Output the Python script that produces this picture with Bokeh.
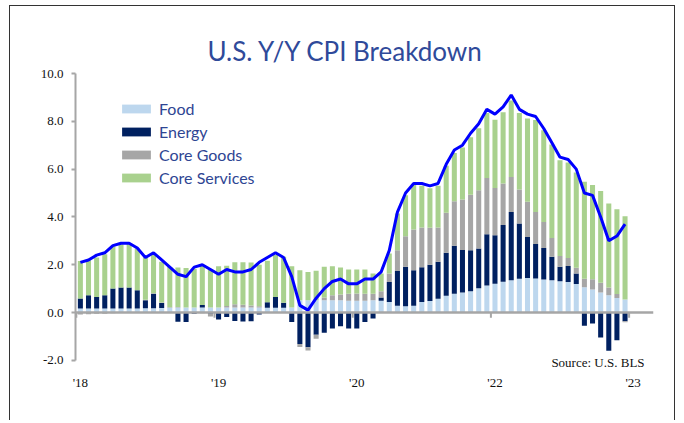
from bokeh.plotting import figure
from bokeh.models import (Span, Label, Legend, LegendItem, FixedTicker, NumeralTickFormatter,
                          ColumnDataSource, Title)
from bokeh.embed import file_html
from bokeh.resources import INLINE

# ---------------- data (contributions to Y/Y CPI, pct pts) ----------------
months = [f"{y}-{m:02d}" for y in range(2018, 2024) for m in range(1, 13)][:68]

food = [0.17, 0.17, 0.17, 0.17, 0.17, 0.17, 0.17, 0.17, 0.18, 0.18, 0.19, 0.20,
        0.21, 0.21, 0.21, 0.21, 0.21, 0.21, 0.21, 0.21, 0.21, 0.21, 0.21, 0.20,
        0.20, 0.20, 0.21, 0.51, 0.51, 0.51, 0.51, 0.51, 0.51, 0.49, 0.49, 0.49,
        0.51, 0.49, 0.44, 0.28, 0.26, 0.28, 0.44, 0.48, 0.58, 0.70, 0.79, 0.84,
        0.89, 1.02, 1.13, 1.20, 1.29, 1.35, 1.41, 1.44, 1.42, 1.38, 1.35, 1.31,
        1.28, 1.19, 1.06, 0.96, 0.84, 0.72, 0.61, 0.54]
energy = [0.42, 0.55, 0.48, 0.55, 0.83, 0.88, 0.88, 0.76, 0.33, 0.61, 0.21, -0.02,
          -0.39, -0.40, -0.05, 0.10, -0.05, -0.29, -0.19, -0.35, -0.38, -0.36, -0.08, 0.23,
          0.45, 0.21, -0.40, -1.32, -1.45, -0.93, -0.85, -0.67, -0.57, -0.67, -0.67, -0.40,
          -0.25, 0.14, 0.84, 1.46, 1.65, 1.49, 1.45, 1.52, 1.54, 1.80, 2.00, 1.78,
          1.72, 1.66, 2.14, 2.03, 2.37, 2.86, 2.31, 1.72, 1.45, 1.32, 0.98, 0.60,
          0.67, 0.44, -0.55, -0.46, -1.05, -1.60, -1.16, -0.36]
core_goods = [-0.08, -0.07, -0.05, -0.05, -0.03, -0.02, -0.02, 0.00, 0.02, 0.02, 0.02, 0.02,
              0.02, 0.00, 0.00, -0.03, -0.12, 0.00, 0.06, 0.14, 0.12, 0.08, 0.05, 0.00,
              0.00, 0.00, 0.00, -0.12, -0.14, -0.17, 0.12, 0.21, 0.24, 0.30, 0.31, 0.30,
              0.28, 0.26, 0.35, 0.87, 1.28, 1.70, 1.67, 1.55, 1.44, 1.67, 1.87, 2.11,
              2.32, 2.44, 2.36, 1.98, 1.74, 1.46, 1.43, 1.47, 1.34, 1.09, 0.79, 0.46,
              0.33, 0.24, 0.35, 0.43, 0.41, 0.33, 0.16, -0.05]
core_services = [1.57, 1.47, 1.65, 1.72, 1.77, 1.81, 1.84, 1.75, 1.77, 1.66, 1.70, 1.68,
                 1.65, 1.65, 1.62, 1.67, 1.59, 1.73, 1.69, 1.75, 1.77, 1.80, 1.74, 1.74,
                 1.77, 1.92, 1.73, 1.26, 1.19, 1.24, 1.28, 1.22, 1.13, 1.01, 1.00, 1.01,
                 0.84, 0.74, 0.84, 1.53, 1.72, 1.86, 1.74, 1.65, 1.74, 1.97, 2.01, 2.17,
                 2.40, 2.59, 2.72, 2.86, 2.98, 3.20, 3.20, 3.49, 3.84, 3.84, 3.91, 4.00,
                 4.00, 3.99, 4.06, 3.94, 3.83, 3.51, 3.55, 3.49]
headline_cpi = [2.1, 2.2, 2.4, 2.5, 2.8, 2.9, 2.9, 2.7, 2.3, 2.5, 2.2, 1.9,
                1.6, 1.5, 1.9, 2.0, 1.8, 1.6, 1.8, 1.7, 1.7, 1.8, 2.1, 2.3,
                2.5, 2.3, 1.5, 0.3, 0.1, 0.6, 1.0, 1.3, 1.4, 1.2, 1.2, 1.4,
                1.4, 1.7, 2.6, 4.2, 5.0, 5.4, 5.4, 5.3, 5.4, 6.2, 6.8, 7.0,
                7.5, 7.9, 8.5, 8.3, 8.6, 9.1, 8.5, 8.3, 8.2, 7.7, 7.1, 6.5,
                6.4, 6.0, 5.0, 4.9, 4.0, 3.0, 3.2, 3.7]

tick_index = [0, 17, 34, 51, 68]
tick_labels = ["'18", "'19", "'20", "'22", "'23"]
y_ticks = [-2.0, 0.0, 2.0, 4.0, 6.0, 8.0, 10.0]

series = [("Food", food, "#BDD7EE"),
          ("Energy", energy, "#002060"),
          ("Core Goods", core_goods, "#A6A6A6"),
          ("Core Services", core_services, "#A9D18E")]

# ---------------- figure ----------------
p = figure(width=666, height=415, x_range=(-0.6, 70.5), y_range=(-2.3, 10),
           output_backend="svg", toolbar_location=None,
           min_border_left=65, min_border_right=23, min_border_top=67, min_border_bottom=54)
p.styles = {"border-top": "1px solid #333333", "border-left": "1px solid #333333",
            "border-right": "1px solid #333333", "margin-left": "9px", "margin-top": "5px"}
p.outline_line_color = None
p.xgrid.visible = False
p.ygrid.visible = False
p.background_fill_color = "white"
p.border_fill_color = "white"

x = list(range(len(months)))
pos = [0.0] * len(x)
neg = [0.0] * len(x)
renderers = []
for name, vals, color in series:
    bottoms, tops = [], []
    for i, v in enumerate(vals):
        if v >= 0:
            bottoms.append(pos[i]); tops.append(pos[i] + v); pos[i] += v
        else:
            tops.append(neg[i]); bottoms.append(neg[i] + v); neg[i] += v
    src = ColumnDataSource(dict(x=x, bottom=bottoms, top=tops))
    r = p.vbar(x="x", bottom="bottom", top="top", width=0.62, source=src,
               fill_color=color, line_color=None)
    renderers.append((name, r))

zero = Span(location=0, dimension="width", line_color="#A6A6A6", line_width=2.5)
p.add_layout(zero)

# small tick marks on the zero line (category boundaries)
p.segment(x0=[t - 0.5 for t in tick_index], x1=[t - 0.5 for t in tick_index],
          y0=[0] * len(tick_index), y1=[-0.22] * len(tick_index),
          line_color="#A6A6A6", line_width=2)

p.line(x, headline_cpi, line_color="#0000FF", line_width=3)

# axes
xa = p.xaxis[0]
xa.ticker = FixedTicker(ticks=tick_index)
xa.major_label_overrides = {t: l for t, l in zip(tick_index, tick_labels)}
xa.axis_line_color = None
xa.major_tick_line_color = None
xa.minor_tick_line_color = None
xa.major_label_text_font = "Liberation Serif"
xa.major_label_text_font_size = "13px"
xa.major_label_text_color = "#111111"
xa.major_label_standoff = 1

ya = p.yaxis[0]
ya.ticker = FixedTicker(ticks=y_ticks)
ya.bounds = (-2, 10)
ya.formatter = NumeralTickFormatter(format="0.0")
ya.axis_line_color = "#A6A6A6"
ya.axis_line_width = 2
ya.major_tick_line_color = "#A6A6A6"
ya.major_tick_line_width = 2
ya.major_tick_out = 4
ya.major_tick_in = 0
ya.minor_tick_line_color = None
ya.major_label_text_font = "Liberation Serif"
ya.major_label_text_font_size = "13px"
ya.major_label_text_color = "#111111"
ya.major_label_standoff = 8

title = Title(text="U.S. Y/Y CPI Breakdown", align="left", offset=132,
              text_font="Lato", text_font_size="26px",
              text_font_style="normal", text_color="#2F4A9A", standoff=13)
p.add_layout(title, "above")

legend = Legend(items=[LegendItem(label=n, renderers=[r]) for n, r in renderers],
                location=(43, 180), orientation="vertical",
                border_line_color=None, background_fill_alpha=0,
                glyph_width=36, glyph_height=11, label_height=18,
                label_text_font="Lato", label_text_font_size="16px",
                label_text_color="#2E4593", spacing=4, padding=0, margin=0,
                label_standoff=5)
p.add_layout(legend)

src_label = Label(x=69.4, y=-2.08, text="Source: U.S. BLS", text_align="right",
                  text_baseline="middle", text_font="Liberation Serif",
                  text_font_size="13px", text_color="#111111")
p.add_layout(src_label)

open("out.html", "w").write(file_html(p, INLINE))
